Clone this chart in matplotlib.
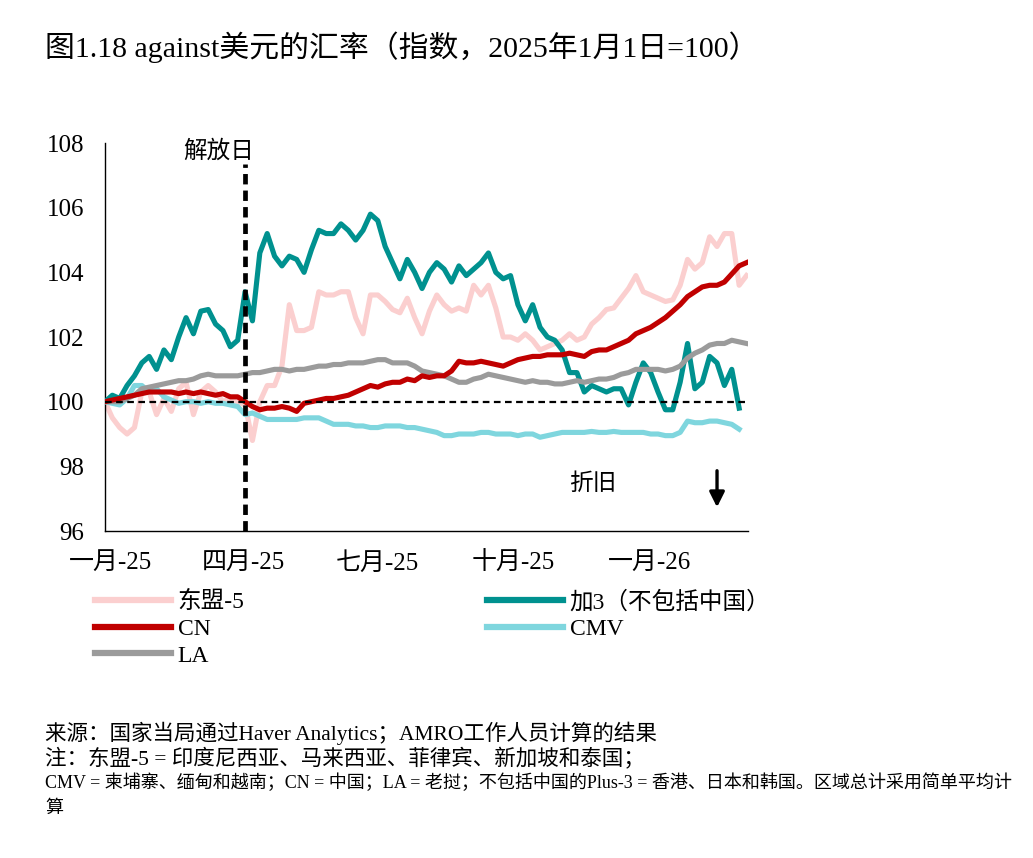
import matplotlib
matplotlib.use('Agg')

import pandas as pd
import matplotlib.pyplot as plt

plt.rcParams['font.family'] = ['Liberation Serif', 'Noto Sans CJK SC', 'DejaVu Sans']

# --- 数据 (5日间隔, 2024-12-28 起, 指数 2025年1月1日=100) ---
START_DATE = '2024-12-28'
STEP = '5D'

asean5 = [100.0, 99.5, 99.2, 99.0, 99.2, 100.3, 100.3, 99.6, 100.1, 99.7,
          100.4, 100.6, 99.6, 100.3, 100.5, 100.3, 100.0, 100.1, 100.0, 99.9,
          98.8, 100.0, 100.5, 100.5, 101.1, 103.0, 102.2, 102.2, 102.3, 103.4,
          103.3, 103.3, 103.4, 103.4, 102.6, 102.1, 103.3, 103.3, 103.1, 102.85,
          102.75, 103.2, 102.6, 102.1, 102.8, 103.3, 103.0, 102.8, 102.9, 102.8,
          103.6, 103.3, 103.6, 102.9, 102.0, 102.0, 101.9, 102.1, 101.9, 101.6,
          101.7, 101.8, 101.9, 102.1, 101.9, 102.0, 102.4, 102.6, 102.85, 102.9,
          103.2, 103.5, 103.9, 103.4, 103.3, 103.2, 103.1, 103.15, 103.6, 104.4,
          104.1, 104.3, 105.1, 104.8, 105.2, 105.2, 103.6, 103.9]

plus3 = [100.0, 100.2, 100.1, 100.5, 100.8, 101.2, 101.4, 101.0, 101.6, 101.3,
         102.0, 102.6, 102.1, 102.8, 102.85, 102.4, 102.2, 101.7, 101.9, 103.4,
         102.5, 104.6, 105.2, 104.5, 104.2, 104.5, 104.4, 104.0, 104.7, 105.3,
         105.2, 105.2, 105.5, 105.3, 105.0, 105.3, 105.8, 105.6, 104.8, 104.3,
         103.8, 104.4, 104.0, 103.5, 104.0, 104.3, 104.1, 103.7, 104.2, 103.9,
         104.1, 104.3, 104.6, 104.0, 103.8, 103.9, 103.0, 102.5, 103.0, 102.3,
         102.0, 101.9, 101.6, 100.9, 100.9, 100.3, 100.5, 100.4, 100.3, 100.4,
         100.4, 99.9, 100.6, 101.2, 100.9, 100.3, 99.75, 99.75, 100.6, 101.8,
         100.4, 100.6, 101.4, 101.2, 100.5, 101.0, 99.8]

cn = [100.0, 100.05, 100.1, 100.15, 100.2, 100.25, 100.3, 100.3, 100.3, 100.3,
      100.25, 100.3, 100.25, 100.3, 100.25, 100.2, 100.25, 100.15, 100.15, 100.0,
      99.85, 99.75, 99.8, 99.8, 99.85, 99.8, 99.7, 99.95, 100.0, 100.05,
      100.1, 100.1, 100.15, 100.2, 100.3, 100.4, 100.5, 100.45, 100.55, 100.6,
      100.6, 100.7, 100.65, 100.8, 100.75, 100.8, 100.8, 100.95, 101.25, 101.2,
      101.2, 101.25, 101.2, 101.15, 101.1, 101.2, 101.3, 101.35, 101.4, 101.4,
      101.45, 101.45, 101.45, 101.5, 101.45, 101.4, 101.55, 101.6, 101.6, 101.7,
      101.8, 101.9, 102.1, 102.2, 102.3, 102.45, 102.6, 102.8, 103.0, 103.25,
      103.4, 103.55, 103.6, 103.6, 103.7, 103.95, 104.2, 104.3]

cmv = [100.0, 99.95, 99.9, 100.1, 100.5, 100.5, 100.3, 100.4, 100.15, 100.05,
       99.95, 100.0, 100.0, 99.95, 100.0, 99.95, 99.95, 99.9, 99.85, 99.6,
       99.65, 99.55, 99.45, 99.45, 99.45, 99.45, 99.45, 99.5, 99.5, 99.5,
       99.4, 99.3, 99.3, 99.3, 99.25, 99.25, 99.2, 99.2, 99.25, 99.25,
       99.25, 99.2, 99.2, 99.15, 99.1, 99.05, 98.95, 98.95, 99.0, 99.0,
       99.0, 99.05, 99.05, 99.0, 99.0, 99.0, 98.95, 99.0, 99.0, 98.9,
       98.95, 99.0, 99.05, 99.05, 99.05, 99.05, 99.08, 99.05, 99.05, 99.08,
       99.05, 99.05, 99.05, 99.05, 99.0, 99.0, 98.95, 98.95, 99.05, 99.4,
       99.35, 99.35, 99.4, 99.4, 99.35, 99.3, 99.15]

la = [100.0, 100.0, 100.0, 100.1, 100.2, 100.4, 100.45, 100.5, 100.55, 100.6,
      100.65, 100.65, 100.7, 100.8, 100.85, 100.8, 100.8, 100.8, 100.8, 100.85,
      100.9, 100.9, 100.95, 101.0, 101.0, 100.95, 101.0, 101.0, 101.05, 101.1,
      101.1, 101.15, 101.15, 101.2, 101.2, 101.2, 101.25, 101.3, 101.3, 101.2,
      101.2, 101.2, 101.1, 100.95, 100.9, 100.85, 100.8, 100.7, 100.6, 100.6,
      100.7, 100.75, 100.85, 100.8, 100.75, 100.7, 100.65, 100.6, 100.65, 100.6,
      100.6, 100.55, 100.55, 100.6, 100.65, 100.6, 100.65, 100.7, 100.7, 100.75,
      100.85, 100.9, 101.0, 101.0, 101.0, 101.0, 100.95, 101.0, 101.1, 101.35,
      101.5, 101.6, 101.75, 101.8, 101.8, 101.9, 101.85, 101.8]

tick_dates = ['2025-01-01', '2025-04-01', '2025-07-01', '2025-10-01', '2026-01-01']
tick_labels = ['一月-25', '四月-25', '七月-25', '十月-25', '一月-26']
yticks = [96, 98, 100, 102, 104, 106, 108]
liberation_day = '2025-04-02'

# --- 颜色 ---
COLOR_ASEAN5 = '#FBCFCF'
COLOR_PLUS3 = '#00918F'
COLOR_CN = '#C00000'
COLOR_CMV = '#7FD6DE'
COLOR_LA = '#9B9B9B'
LW = 3.7


def dates_for(values):
    return pd.date_range(START_DATE, periods=len(values), freq=STEP)


fig = plt.figure(figsize=(10.33, 8.58), dpi=100)
ax = fig.add_axes([0.1016, 0.3811, 0.6225, 0.4522])

l_asean, = ax.plot(dates_for(asean5), asean5, color=COLOR_ASEAN5, lw=LW, label='东盟-5', zorder=2)
l_plus3, = ax.plot(dates_for(plus3), plus3, color=COLOR_PLUS3, lw=LW, label='加3（不包括中国）', zorder=3)
l_cn, = ax.plot(dates_for(cn), cn, color=COLOR_CN, lw=LW, label='CN', zorder=5)
l_cmv, = ax.plot(dates_for(cmv), cmv, color=COLOR_CMV, lw=LW, label='CMV', zorder=4)
l_la, = ax.plot(dates_for(la), la, color=COLOR_LA, lw=LW, label='LA', zorder=4)

# 100 基准线
ax.axhline(100, color='black', lw=1.6, ls=(0, (3, 2)), zorder=6)

# 解放日
lib = pd.Timestamp(liberation_day)
ax.plot([lib, lib], [96, 107.35], color='black', lw=3.4, ls=(0, (2.2, 1.3)), zorder=7,
        dash_capstyle='butt')
ax.text(lib - pd.Timedelta(days=18), 107.75, '解放日', ha='center', va='center', fontsize=17)

# 折旧
ax.text(pd.Timestamp('2025-11-24'), 97.45, '折旧', ha='center', va='center', fontsize=17)
ax.annotate('', xy=(pd.Timestamp('2026-02-16'), 96.65), xytext=(pd.Timestamp('2026-02-16'), 97.95),
            arrowprops=dict(arrowstyle='-|>,head_width=0.45,head_length=0.9', color='black', lw=2.4))

ax.set_ylim(96, 108)
ax.set_yticks(yticks)
ax.set_xlim(pd.Timestamp('2024-12-28'), pd.Timestamp('2026-03-09'))
ax.set_xticks([pd.Timestamp(d) for d in tick_dates])
ax.set_xticklabels(tick_labels)
ax.tick_params(axis='both', length=0, labelsize=18)
ax.tick_params(axis='x', pad=15)
ax.tick_params(axis='y', pad=15)
for s in ['top', 'right']:
    ax.spines[s].set_visible(False)
for s in ['left', 'bottom']:
    ax.spines[s].set_linewidth(1.0)

# 图例 (两列)
leg_kw = dict(frameon=False, fontsize=17, handlelength=3.2, handletextpad=0.3,
              labelspacing=0.22, borderpad=0, borderaxespad=0, loc='upper left')
fig.legend(handles=[l_asean, l_cn, l_la], bbox_to_anchor=(95 / 1033, 1 - 591 / 858), **leg_kw)
fig.legend(handles=[l_plus3, l_cmv], bbox_to_anchor=(487 / 1033, 1 - 591 / 858), **leg_kw)
for lg in fig.legends:
    for h in lg.get_lines():
        h.set_linewidth(4.5)

# 标题
fig.text(45 / 1033, 1 - 47 / 858, '图1.18 against美元的汇率（指数，2025年1月1日=100）',
         fontsize=21.5, va='center', ha='left')

# 注释
fig.text(45 / 1033, 1 - 733 / 858, '来源：国家当局通过Haver Analytics；AMRO工作人员计算的结果',
         fontsize=15.5, va='center')
fig.text(45 / 1033, 1 - 759 / 858, '注：东盟-5 = 印度尼西亚、马来西亚、菲律宾、新加坡和泰国；',
         fontsize=15.5, va='center')
fig.text(45 / 1033, 1 - 783 / 858,
         'CMV = 柬埔寨、缅甸和越南；CN = 中国；LA = 老挝；不包括中国的Plus-3 = 香港、日本和韩国。区域总计采用简单平均计',
         fontsize=13, va='center')
fig.text(45 / 1033, 1 - 808 / 858, '算', fontsize=13, va='center')

fig.savefig('out.png', dpi=100)
